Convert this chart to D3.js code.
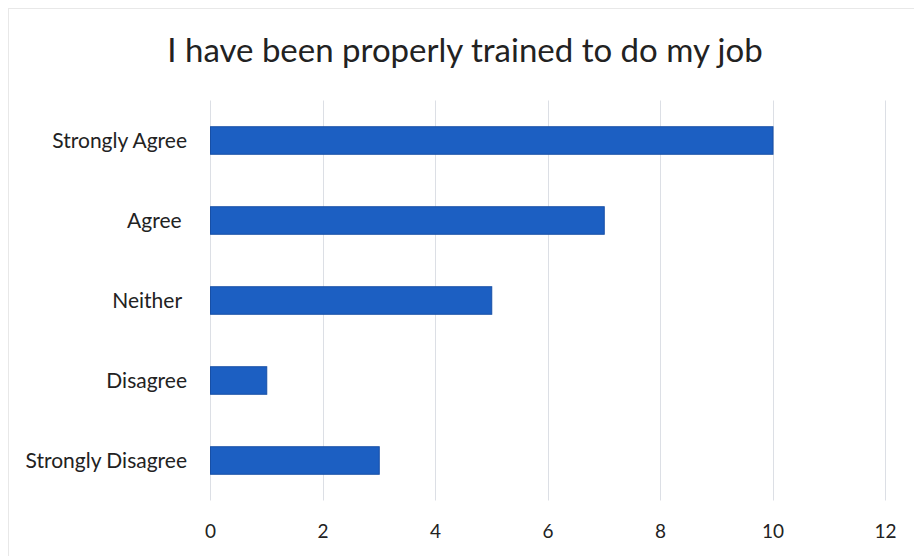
<!DOCTYPE html>
<head>
<meta charset="utf-8">
<title>I have been properly trained to do my job</title>
<script src="https://d3js.org/d3.v7.min.js"></script>
<style>
body { margin: 0; background: #fff; }
text { font-family: Lato, "Open Sans", sans-serif; fill: #222; white-space: pre; }
</style>
</head>
<body>
<script>
// chart values
var categories = ["Strongly Agree", "Agree ", "Neither ", "Disagree", "Strongly Disagree"];
var counts = [10, 7, 5, 1, 3];
var tickValues = [0, 2, 4, 6, 8, 10, 12];
var title = "I have been properly trained to do my job";

var width = 914, height = 556;
var plotLeft = 210, plotRight = 885, plotTop = 100.5, plotBottom = 500.5;

var svg = d3.select("body").append("svg")
  .attr("width", width)
  .attr("height", height);

// faint chart border
svg.append("rect")
  .attr("x", 8.5).attr("y", 8.5)
  .attr("width", 920).attr("height", 560)
  .attr("fill", "none")
  .attr("stroke", "#e8e8e8");

var x = d3.scaleLinear().domain([0, 12]).range([plotLeft, plotRight]);
var y = d3.scaleBand().domain(categories).range([plotTop, plotBottom])
  .paddingInner(0.656).paddingOuter(0.328);

// gridlines
svg.selectAll("line.grid")
  .data(tickValues).enter().append("line")
  .attr("class", "grid")
  .attr("x1", function(d) {return Math.round(x(d)) + 0.5;})
  .attr("x2", function(d) {return Math.round(x(d)) + 0.5;})
  .attr("y1", plotTop)
  .attr("y2", plotBottom)
  .attr("stroke", "#dcdfe5")
  .attr("stroke-width", 1);

// bars
svg.selectAll("rect.bar")
  .data(categories).enter().append("rect")
  .attr("class", "bar")
  .attr("x", x(0) + 0.5)
  .attr("y", function(d) {return y(d);})
  .attr("width", function(d,i) {return x(counts[i]) - x(0);})
  .attr("height", y.bandwidth())
  .attr("fill", "#1c5fc2")
  .attr("stroke", "#174fa6")
  .attr("stroke-width", 1);

// x axis labels
var xAxis = d3.axisBottom(x).tickValues(tickValues).tickSize(0).tickPadding(0);
var gx = svg.append("g")
  .attr("transform", "translate(0," + plotBottom + ")")
  .call(xAxis);
gx.select(".domain").remove();
gx.selectAll("text")
  .attr("y", 37)
  .attr("dy", 0)
  .style("font-size", "19px");

// y axis labels
var yAxis = d3.axisLeft(y).tickSize(0).tickPadding(0);
var gy = svg.append("g")
  .attr("transform", "translate(187,0)")
  .call(yAxis);
gy.select(".domain").remove();
gy.selectAll("text")
  .attr("x", 0)
  .attr("dy", "0.35em")
  .style("font-size", "21px");

// title
svg.append("text")
  .attr("x", 465)
  .attr("y", 62)
  .attr("text-anchor", "middle")
  .style("font-size", "33px")
  .text(title);
</script>
</body>
